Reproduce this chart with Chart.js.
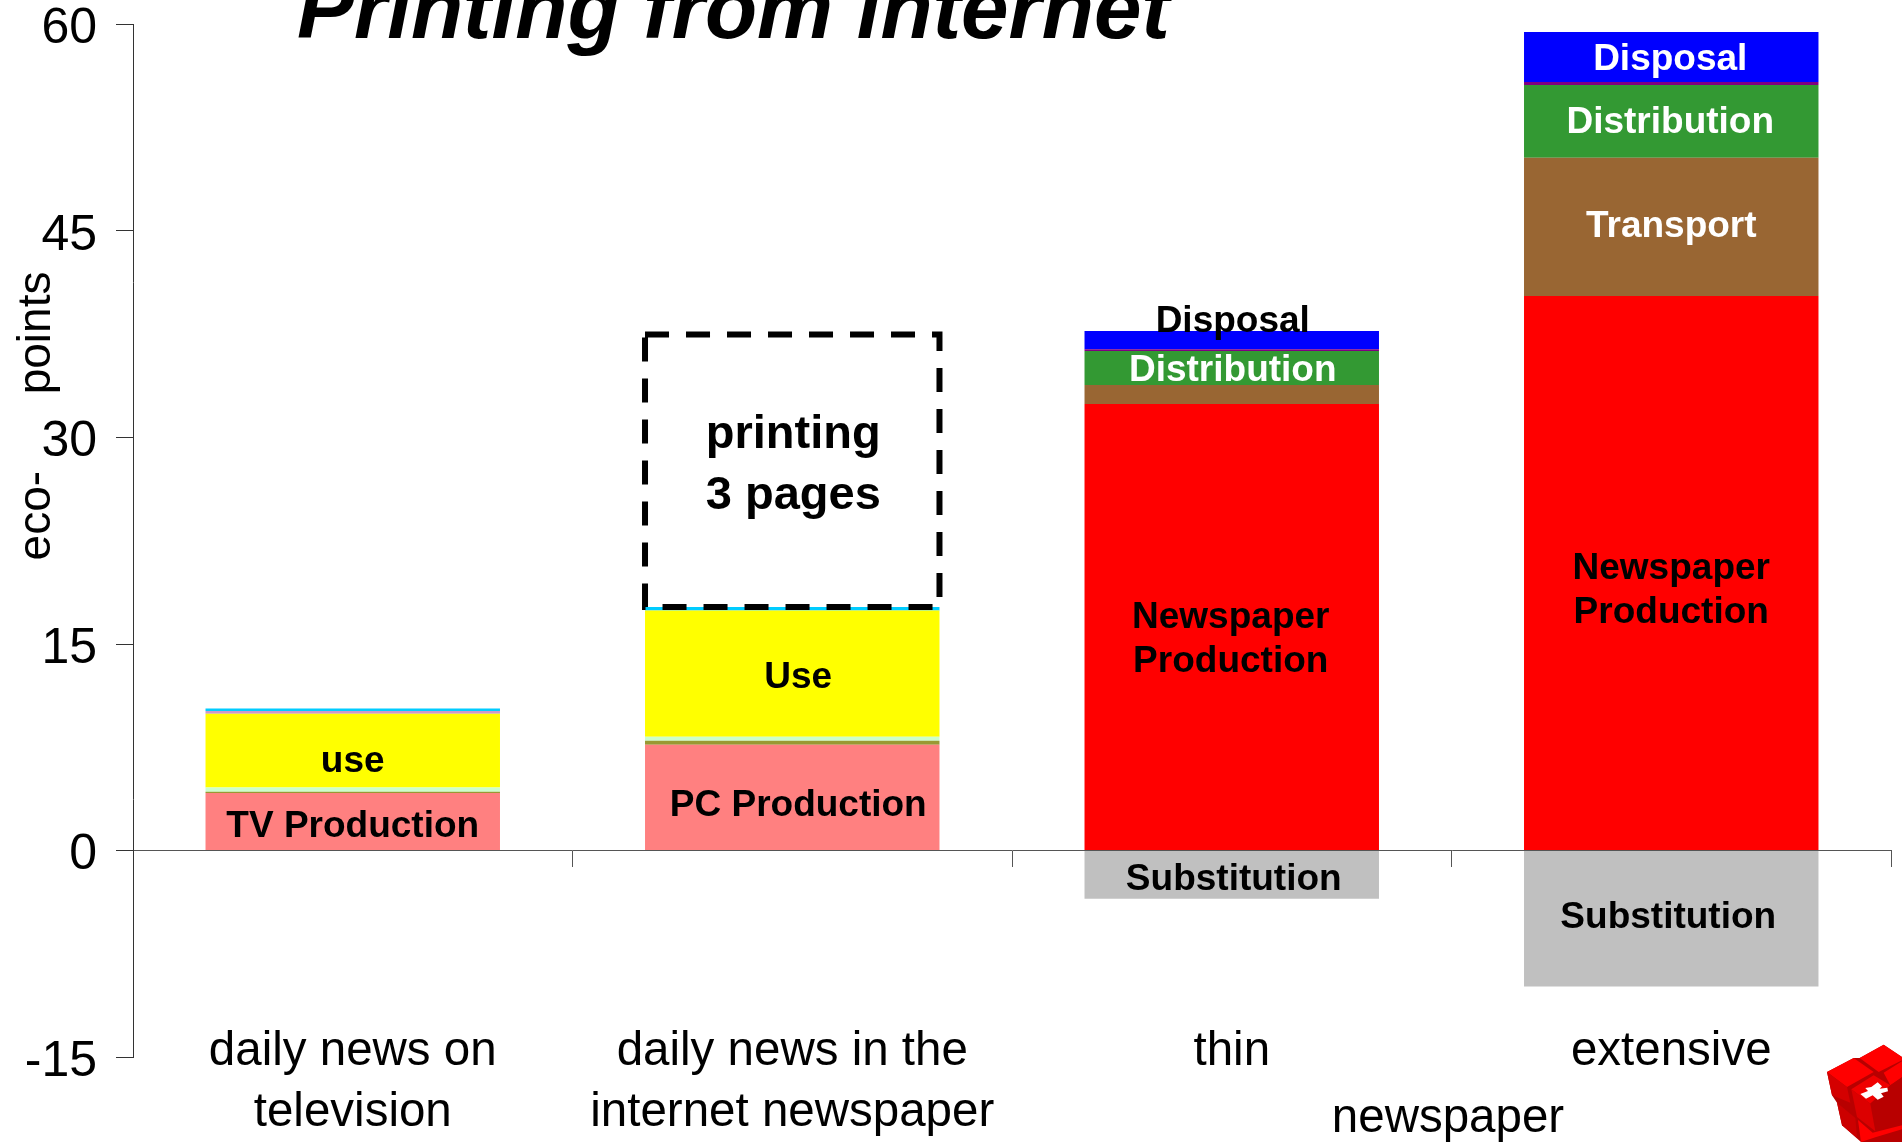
<!DOCTYPE html>
<html>
<head>
<meta charset="utf-8">
<style>
html,body{margin:0;padding:0;background:#fff;overflow:hidden}
#wrap{position:relative;width:1902px;height:1142px}
#logo{position:absolute;left:1812px;top:1032px}
</style>
<script src="https://cdn.jsdelivr.net/npm/chart.js@4"></script>
</head>
<body>
<div id="wrap">
<canvas id="myChart" width="1902" height="1142"></canvas>
<svg id="logo" width="90" height="110" viewBox="0 0 270 330">
<polygon points="45,120 125,78 143,78 215,38 270,75 270,330 147,330 90,280 75,212 60,190" fill="#b80000"/>
<polygon points="45,120 125,78 185,120 105,165" fill="#ff0000"/>
<polygon points="45,120 105,165 115,212 60,190" fill="#d40000"/>
<polygon points="143,78 215,38 270,75 270,85 200,120" fill="#ff0000"/>
<polygon points="215,122 270,88 270,135 235,160" fill="#ff0000"/>
<polygon points="118,172 185,130 235,160 175,215" fill="#f00000"/>
<polygon points="175,215 235,160 270,137 270,272 190,298" fill="#b80000"/>
<polygon points="118,172 175,215 190,298 135,255" fill="#dc0000"/>
<polygon points="75,212 130,258 135,318 90,280" fill="#cc0000"/>
<polygon points="138,264 182,302 270,280 270,292 190,316 147,330" fill="#ff0000"/>
<polygon points="178,165 197,151 210,163 203,170 226,167 228,178 207,184 215,194 197,203 182,190 162,200 145,186 168,177 160,168" fill="#ffffff"/>
</svg>
</div>
<script>
const categories=[["daily news on","television"],["daily news in the","internet newspaper"],"thin","extensive"];
const yTicks=[-15,0,15,30,45,60];

const substitution=[null,null,-3.5,-9.87];
const deviceProduction=[4.17,7.68,null,null];
const newspaperProduction=[null,null,32.44,40.28];
const transport=[null,null,1.38,10.04];
const deviceOther=[0.1,0.29,null,null];
const deviceStandby=[0.3,0.29,null,null];
const deviceUse=[5.37,9.17,null,null];
const deviceDisposal=[0.2,null,null,null];
const deviceInfra=[0.17,0.25,null,null];
const distribution=[null,null,2.47,5.28];
const packaging=[null,null,0.12,0.22];
const disposal=[null,null,1.33,3.63];
const printing=[null,19.8,null,null];

const ds=(label,data,color)=>({label:label,data:data,backgroundColor:color,borderWidth:0,stack:"a",barPercentage:1,categoryPercentage:0.67});

// text sitting on the bars: dataset label, category, lines, colour, shift from the middle of the segment (y, x)
const barLabels=[
    ["TV Production",0,["TV Production"],"#000",5.5,0],
    ["Use",0,["use"],"#000",11.5,0],
    ["TV Production",1,["PC Production"],"#000",8.5,6],
    ["Use",1,["Use"],"#000",4.5,6],
    ["Newspaper Production",2,["Newspaper","Production"],"#000",12.5,-1],
    ["Disposal",2,["Disposal"],"#000",-18.5,1],
    ["Distribution",2,["Distribution"],"#fff",2.5,1],
    ["Substitution",2,["Substitution"],"#000",4.5,2],
    ["Newspaper Production",3,["Newspaper","Production"],"#000",17.5,0],
    ["Transport",3,["Transport"],"#fff",-0.5,0],
    ["Distribution",3,["Distribution"],"#fff",1.5,-1],
    ["Disposal",3,["Disposal"],"#fff",2.5,-1],
    ["Substitution",3,["Substitution"],"#000",-1,-3]
];

const textPlugin={
    id:"texts",
    beforeDraw(chart){
        // value labels of the y axis sit a little below their ticks
        chart.scales.y.getLabelItems().forEach(it=>{
            if(!it.moved){it.options.translation[1]+=5;it.moved=true;}
        });
    },
    afterDatasetsDraw(chart){
        const c=chart.ctx;
        c.save();
        // dashed box of the printing part
        const pi=chart.data.datasets.findIndex(d=>d.label==="Printing");
        const pb=chart.getDatasetMeta(pi).data[1];
        const px=pb.x-pb.width/2, pw=pb.width;
        c.strokeStyle="#000";
        c.lineWidth=6;
        c.setLineDash([24,17]);
        c.strokeRect(px,pb.y,pw,pb.base-pb.y);
        c.setLineDash([]);

        c.textAlign="center";
        c.textBaseline="middle";
        c.font="bold 37px 'Liberation Sans'";
        barLabels.forEach(l=>{
            const i=chart.data.datasets.findIndex(d=>d.label===l[0]);
            const el=chart.getDatasetMeta(i).data[l[1]];
            const my=(el.y+el.base)/2+l[4];
            c.fillStyle=l[3];
            l[2].forEach((t,n)=>{
                c.fillText(t,el.x+l[5],my+(n-(l[2].length-1)/2)*44);
            });
        });
        c.fillStyle="#000";
        c.font="bold 47px 'Liberation Sans'";
        c.fillText("printing",pb.x+1,435.5);
        c.fillText("3 pages",pb.x+1,496.5);

        c.font="47.5px 'Liberation Sans'";
        c.fillText("newspaper",1448,1119);

        c.font="bold italic 85.4px 'Liberation Sans'";
        c.textAlign="left";
        c.textBaseline="alphabetic";
        c.fillText("Printing from internet",297,38);

        c.translate(50,416);
        c.rotate(-Math.PI/2);
        c.font="46px 'Liberation Sans'";
        c.textAlign="center";
        c.fillText("eco-      points",0,0);
        c.restore();
    }
};

new Chart(document.getElementById("myChart"),{
    type:"bar",
    data:{
        labels:categories,
        datasets:[
            ds("Substitution",substitution,"#C0C0C0"),
            ds("TV Production",deviceProduction,"#FF8080"),
            ds("Newspaper Production",newspaperProduction,"#FF0000"),
            ds("Transport",transport,"#996633"),
            ds("Other",deviceOther,"#999933"),
            ds("Standby",deviceStandby,"#CCFFCC"),
            ds("Use",deviceUse,"#FFFF00"),
            ds("Device disposal",deviceDisposal,"#CC99CC"),
            ds("Infrastructure",deviceInfra,"#00CCFF"),
            ds("Distribution",distribution,"#339933"),
            ds("Packaging",packaging,"#800080"),
            ds("Disposal",disposal,"#0000FF"),
            ds("Printing",printing,"rgba(0,0,0,0)")
        ]
    },
    options:{
        responsive:false,
        animation:false,
        layout:{padding:{left:0,right:11,top:24.5,bottom:85}},
        plugins:{legend:{display:false},title:{display:false},tooltip:{enabled:false}},
        scales:{
            x:{
                stacked:true,
                position:{y:0},
                border:{color:"#555",width:1},
                grid:{drawOnChartArea:false,tickLength:16,tickColor:"#555",tickWidth:1},
                ticks:{
                    color:"#000",
                    font:{family:"'Liberation Sans'",size:47.5,lineHeight:1.28},
                    padding:155,
                    autoSkip:false,
                    maxRotation:0,
                    minRotation:0
                },
                afterFit(s){s.height=0;s.paddingLeft=0;s.paddingRight=0;}
            },
            y:{
                stacked:true,
                min:-15,
                max:60,
                afterBuildTicks(s){s.ticks=yTicks.map(v=>({value:v}));},
                border:{color:"#333",width:1},
                grid:{drawOnChartArea:false,tickLength:17,tickColor:"#333",tickWidth:1},
                ticks:{
                    color:"#000",
                    font:{family:"'Liberation Sans'",size:50},
                    padding:19
                },
                afterFit(s){s.width=133;s.paddingTop=0;s.paddingBottom=0;}
            }
        }
    },
    plugins:[textPlugin]
});
</script>
</body>
</html>
